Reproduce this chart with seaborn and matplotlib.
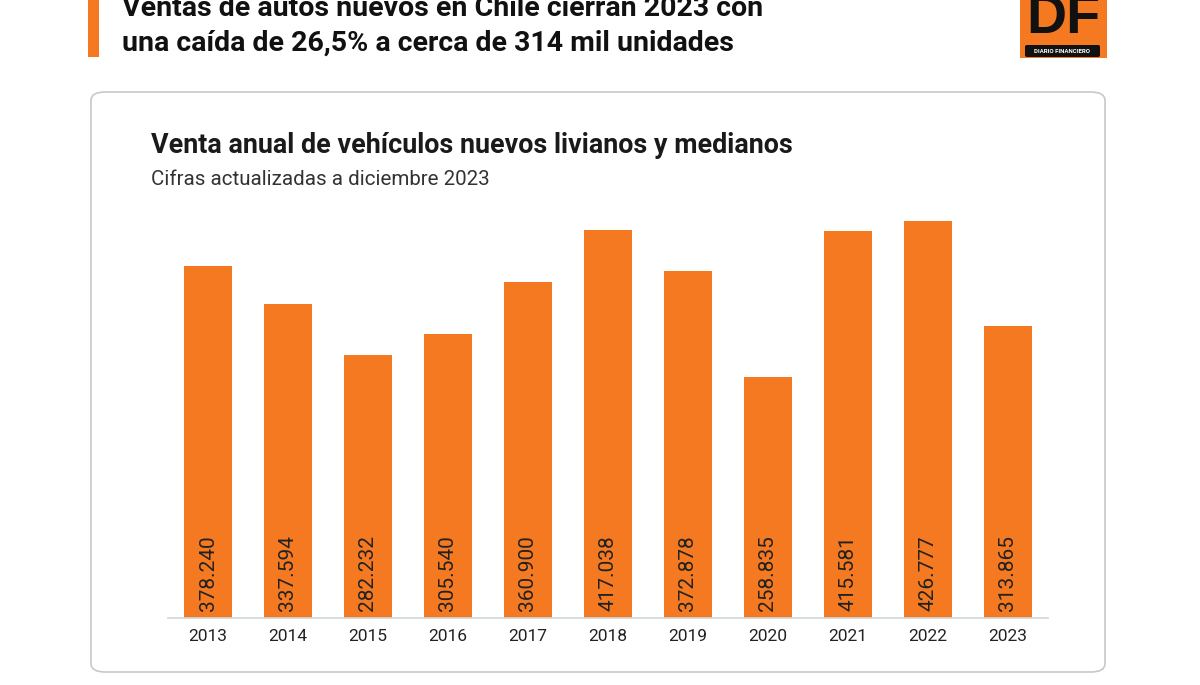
import matplotlib
matplotlib.use("Agg")
import matplotlib.pyplot as plt
import seaborn as sns
import pandas as pd
from matplotlib.patches import FancyBboxPatch, Rectangle

years = ["2013", "2014", "2015", "2016", "2017", "2018", "2019", "2020", "2021", "2022", "2023"]
sales = [378240, 337594, 282232, 305540, 360900, 417038, 372878, 258835, 415581, 426777, 313865]
labels = ["378.240", "337.594", "282.232", "305.540", "360.900", "417.038",
          "372.878", "258.835", "415.581", "426.777", "313.865"]

headline = ["Ventas de autos nuevos en Chile cierran 2023 con",
            "una caída de 26,5% a cerca de 314 mil unidades"]
title = "Venta anual de vehículos nuevos livianos y medianos"
subtitle = "Cifras actualizadas a diciembre 2023"

ORANGE = "#F47920"

sns.set_theme(style="white")
plt.rcParams['font.family'] = ['Roboto', 'DejaVu Sans']

W, H = 1200, 685
fig = plt.figure(figsize=(12, 6.85), dpi=100)
fig.patch.set_facecolor("white")

def fx(px):
    return px / W

def fy(py):
    return 1 - py / H

# card
card = FancyBboxPatch((fx(91), fy(672)), fx(1105) - fx(91), fy(92) - fy(672),
                      boxstyle="round,pad=0,rounding_size=0.012",
                      transform=fig.transFigure, facecolor="white",
                      edgecolor="#c8c8c8", linewidth=1.2, zorder=-5)
fig.patches.append(card)

# header accent bar
fig.patches.append(Rectangle((fx(88), fy(57)), fx(11), fy(0) - fy(57),
                             transform=fig.transFigure, facecolor=ORANGE,
                             edgecolor="none", zorder=1))
fig.text(fx(122), fy(16), headline[0], fontsize=20.5, fontweight="bold",
         color="#111111", va="baseline", ha="left")
fig.text(fx(122), fy(51), headline[1], fontsize=20.5, fontweight="bold",
         color="#111111", va="baseline", ha="left")

# logo
fig.patches.append(Rectangle((fx(1020), fy(58)), fx(87), fy(0) - fy(58),
                             transform=fig.transFigure, facecolor=ORANGE,
                             edgecolor="none", zorder=1))
fig.patches.append(FancyBboxPatch((fx(1025), fy(57)), fx(75), fy(45) - fy(57),
                                  boxstyle="round,pad=0,rounding_size=0.002",
                                  transform=fig.transFigure, facecolor="#111111",
                                  edgecolor="none", zorder=2))
fig.text(fx(1063), fy(45), "DF", fontsize=40, color="#111111", fontweight="bold",
         ha="center", va="bottom", family=["Liberation Sans", "DejaVu Sans"],
         zorder=3)
fig.text(fx(1062), fy(51.5), "DIARIO FINANCIERO", fontsize=4.4, color="white",
         ha="center", va="center", fontweight="bold", zorder=3)

# chart titles
fig.text(fx(151), fy(153), title, fontsize=19.4, fontweight="bold",
         color="#1a1a1a", va="baseline", ha="left")
fig.text(fx(151), fy(185), subtitle, fontsize=14.8, color="#333333",
         va="baseline", ha="left")

# axes
ymax = 440000
px_per_unit = 397 / 426777
top_px = 618 - ymax * px_per_unit
ax = fig.add_axes([fx(168), fy(618), fx(1048) - fx(168), fy(top_px) - fy(618)])
ax.set_facecolor("none")
ax.set_zorder(2)

df = pd.DataFrame({"year": years, "sales": sales})
sns.barplot(data=df, x="year", y="sales", color=ORANGE, saturation=1,
            width=0.61, ax=ax, edgecolor="none")
ax.set_xlim(-0.5, 10.5)
ax.set_ylim(0, ymax)

for i, lab in enumerate(labels):
    ax.text(i, 7000, lab, rotation=90, ha="center", va="bottom",
            fontsize=15, color="#222222")

ax.set_xlabel("")
ax.set_ylabel("")
ax.set_yticks([])
for s in ["top", "right", "left"]:
    ax.spines[s].set_visible(False)
ax.spines["bottom"].set_color("#cfd8dc")
ax.spines["bottom"].set_linewidth(1.2)
ax.tick_params(axis="x", length=0, pad=8, labelsize=12.5, labelcolor="#222222")

fig.savefig("out.png", dpi=100, facecolor="white")
